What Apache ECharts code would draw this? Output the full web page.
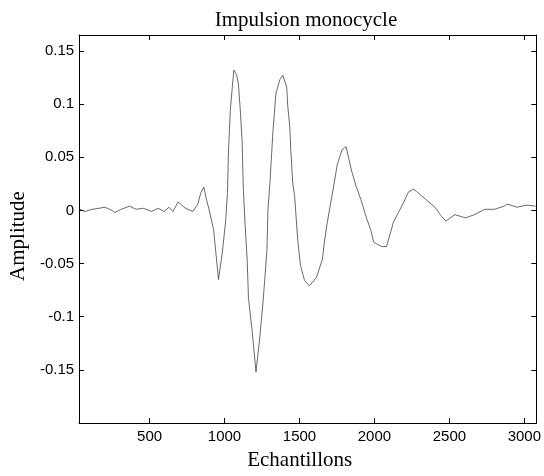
<!DOCTYPE html>
<html>
<head>
<meta charset="utf-8">
<script src="https://cdn.jsdelivr.net/npm/echarts@6/dist/echarts.min.js"></script>
<style>html,body{margin:0;padding:0;background:#fff}#c{width:544px;height:476px}</style>
</head>
<body>
<div id="c"></div>
<script>
const titleText = "Impulsion monocycle";
const xName = "Echantillons";
const yName = "Amplitude";
const xTicks = [500, 1000, 1500, 2000, 2500, 3000];
const yTicks = [-0.15, -0.1, -0.05, 0, 0.05, 0.1, 0.15];
const yTickLabels = ["-0.15", "-0.1", "-0.05", "0", "0.05", "0.1", "0.15"];
const samples = [35, 70, 117, 163, 202, 249, 268, 310, 367, 410, 459, 512, 558, 598, 630, 657, 690, 740, 789, 822, 843, 862, 880, 895, 927, 960, 985, 1007, 1020, 1026, 1039, 1062, 1080, 1092, 1105, 1118, 1125, 1138, 1151, 1160, 1185, 1210, 1235, 1257, 1270, 1283, 1290, 1303, 1323, 1343, 1369, 1389, 1415, 1422, 1435, 1442, 1455, 1468, 1488, 1507, 1534, 1567, 1613, 1653, 1666, 1686, 1712, 1732, 1752, 1784, 1811, 1830, 1850, 1877, 1910, 1949, 1975, 1995, 2048, 2081, 2127, 2160, 2193, 2226, 2259, 2279, 2345, 2404, 2444, 2477, 2536, 2608, 2668, 2734, 2800, 2866, 2885, 2951, 3017, 3075];
const amplitude = [0.001, -0.001, 0.001, 0.002, 0.003, 0.000, -0.002, 0.001, 0.004, 0.001, 0.002, -0.001, 0.002, -0.001, 0.003, -0.001, 0.008, 0.002, -0.001, 0.006, 0.017, 0.022, 0.010, 0.002, -0.018, -0.065, -0.040, -0.011, 0.017, 0.054, 0.095, 0.132, 0.128, 0.120, 0.095, 0.064, 0.022, -0.015, -0.046, -0.083, -0.114, -0.152, -0.120, -0.086, -0.062, -0.037, 0.001, 0.026, 0.074, 0.110, 0.123, 0.127, 0.116, 0.098, 0.079, 0.057, 0.026, 0.013, -0.027, -0.052, -0.066, -0.071, -0.063, -0.046, -0.030, -0.011, 0.010, 0.026, 0.043, 0.057, 0.060, 0.048, 0.036, 0.023, 0.010, -0.008, -0.018, -0.030, -0.034, -0.034, -0.011, -0.002, 0.007, 0.017, 0.020, 0.018, 0.010, 0.003, -0.005, -0.010, -0.004, -0.007, -0.004, 0.001, 0.001, 0.004, 0.006, 0.003, 0.005, 0.004];

const points = samples.map((s, i) => [s, amplitude[i]]);
const serif = "'Liberation Serif', 'Times New Roman', serif";
const sans = "'Liberation Sans', Arial, sans-serif";
const axisCommon = {
  axisLine: { show: true, onZero: false, lineStyle: { color: '#000', width: 1 } },
  splitLine: { show: false }
};
const chart = echarts.init(document.getElementById('c'), null, { renderer: 'canvas' });
chart.setOption({
  animation: false,
  backgroundColor: '#fff',
  title: {
    text: titleText, left: 301, top: 5, textAlign: 'center',
    textStyle: { fontFamily: serif, fontSize: 21, fontWeight: 'normal', color: '#000' }
  },
  grid: { left: 78, right: 4, top: 35, bottom: 52, containLabel: false },
  xAxis: [{
    type: 'value', min: 30, max: 3080, position: 'bottom',
    name: xName, nameLocation: 'middle', nameGap: 27,
    nameTextStyle: { fontFamily: serif, fontSize: 21, color: '#000', padding: [0, 16, 0, 0] },
    ...axisCommon,
    axisTick: { show: true, inside: true, length: 5, customValues: xTicks, lineStyle: { color: '#000' } },
    axisLabel: { show: true, customValues: xTicks, margin: 6, fontFamily: sans, fontSize: 15, color: '#000',
      formatter: v => String(v) }
  }, {
    type: 'value', min: 30, max: 3080, position: 'top',
    ...axisCommon,
    axisTick: { show: true, inside: true, length: 5, customValues: xTicks, lineStyle: { color: '#000' } },
    axisLabel: { show: false }
  }],
  yAxis: [{
    type: 'value', min: -0.2, max: 0.165, position: 'left',
    name: yName, nameLocation: 'middle', nameGap: 49, nameRotate: 90,
    nameTextStyle: { fontFamily: serif, fontSize: 21, color: '#000', padding: [0, 14, 0, 0] },
    ...axisCommon,
    axisTick: { show: true, inside: true, length: 5, customValues: yTicks, lineStyle: { color: '#000' } },
    axisLabel: {
      show: true, customValues: yTicks, margin: 5, fontFamily: sans, fontSize: 15, color: '#000',
      formatter: v => { const i = yTicks.findIndex(t => Math.abs(t - v) < 1e-9); return i >= 0 ? yTickLabels[i] : ''; }
    }
  }, {
    type: 'value', min: -0.2, max: 0.165, position: 'right',
    ...axisCommon,
    axisTick: { show: true, inside: true, length: 5, customValues: yTicks, lineStyle: { color: '#000' } },
    axisLabel: { show: false }
  }],
  series: [{
    type: 'line', data: points, xAxisIndex: 0, yAxisIndex: 0,
    showSymbol: false, symbol: 'none', smooth: false,
    lineStyle: { color: '#444', width: 0.8 }
  }]
});
</script>
</body>
</html>
